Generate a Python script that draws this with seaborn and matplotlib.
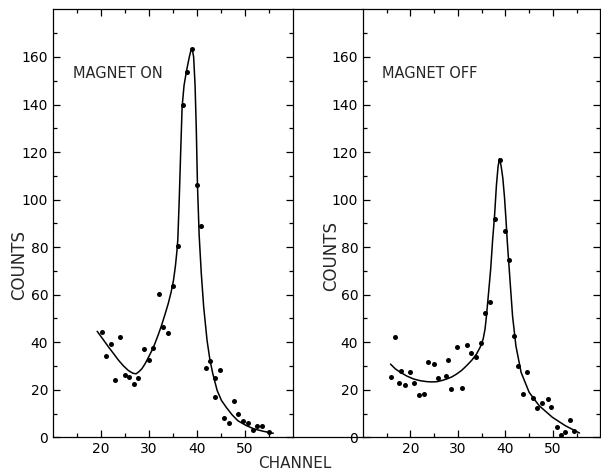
import matplotlib
matplotlib.use("Agg")
import matplotlib.pyplot as plt
from matplotlib.lines import Line2D
import pandas as pd
import seaborn as sns

# MAGNET ON - measured points
on_channel = [20.2, 21.0, 22.1, 23.0, 24.0, 24.9, 25.9, 26.8, 27.8, 29.0, 29.9, 30.9,
              32.1, 33.0, 33.9, 35.0, 36.1, 37.0, 37.9, 39.0, 40.1, 40.8, 41.8, 42.7,
              43.7, 43.7, 44.7, 45.7, 46.6, 47.7, 48.6, 49.6, 50.6, 51.6, 52.5, 53.6, 54.9]
on_counts = [44.2, 34.4, 39.4, 24.2, 42.4, 26.4, 25.3, 22.3, 25.0, 37.2, 32.6, 37.6,
             60.2, 46.3, 43.7, 63.7, 80.6, 139.7, 153.6, 163.2, 106.1, 88.7, 29.2, 32.0,
             25.0, 16.8, 28.5, 8.0, 5.9, 15.3, 9.8, 7.0, 6.2, 3.1, 4.9, 4.6, 2.1]

# MAGNET ON - fitted curve
on_fit_x = [19.2, 20.5, 21.6, 22.7, 23.7, 24.7, 25.7, 26.6, 27.3, 27.9, 28.5, 29.2,
            29.9, 30.6, 31.2, 31.9, 32.6, 33.3, 34.0, 34.6, 35.1, 35.5, 35.8, 36.0,
            36.3, 36.6, 36.9, 37.3, 37.8, 38.4, 38.7, 39.0, 39.3, 39.6, 39.85, 40.1,
            40.45, 40.9, 41.4, 42.1, 42.7, 43.3, 44.2, 45.1, 46.1, 47.3, 48.5, 50.2,
            51.9, 53.9, 55.9]
on_fit_y = [44.6, 41.0, 37.9, 35.0, 32.3, 30.0, 28.1, 27.0, 26.7, 27.6, 28.8, 31.0,
            33.7, 36.5, 39.3, 43.0, 47.0, 51.5, 56.2, 61.0, 66.0, 72.0, 78.0, 83.0,
            100.0, 120.0, 139.0, 148.0, 154.0, 160.0, 162.5, 163.5, 160.0, 148.0, 130.0, 106.0,
            85.0, 68.8, 54.7, 40.7, 32.5, 26.7, 19.7, 15.5, 12.6, 9.5, 7.0, 5.0,
            3.5, 2.5, 1.7]

# MAGNET OFF - measured points
off_channel = [15.8, 16.7, 17.5, 18.1, 18.9, 19.9, 20.8, 21.7, 22.9, 23.75, 24.9, 25.9,
               27.4, 27.9, 28.6, 29.9, 30.8, 31.8, 32.8, 33.75, 34.8, 35.8, 36.8, 37.85,
               38.9, 40.0, 40.7, 41.9, 42.7, 43.75, 44.5, 45.7, 46.6, 47.6, 49.0, 49.6,
               50.8, 51.6, 52.6, 53.7, 54.5]
off_counts = [25.4, 42.4, 22.8, 28.0, 22.2, 27.6, 22.8, 18.0, 18.4, 31.5, 30.8, 24.9,
              25.8, 32.7, 20.3, 38.0, 20.8, 38.7, 35.5, 33.9, 39.8, 52.5, 56.8, 92.0,
              116.6, 86.8, 74.5, 42.8, 30.0, 18.4, 27.4, 16.5, 12.3, 14.4, 16.1, 12.6,
              4.3, 1.0, 2.4, 7.3, 2.6]

# MAGNET OFF - fitted curve
off_fit_x = [15.8, 16.8, 17.9, 19.3, 20.7, 22.1, 23.5, 24.6, 25.6, 26.6, 27.6, 28.7,
             29.7, 30.8, 31.8, 32.9, 33.9, 34.7, 35.3, 35.7, 36.0, 36.5, 36.9, 37.3,
             37.7, 38.1, 38.45, 38.75, 39.1, 39.45, 39.8, 40.1, 40.4, 41.0, 41.5, 42.2,
             43.3, 45.0, 47.1, 49.9, 52.6, 55.6]
off_fit_y = [30.8, 28.8, 27.3, 25.7, 24.5, 23.8, 23.4, 23.3, 23.4, 23.9, 24.5, 25.4,
             26.6, 28.2, 30.1, 32.4, 35.0, 38.0, 41.3, 45.5, 51.0, 62.0, 71.0, 83.0,
             93.0, 106.0, 114.0, 117.2, 114.0, 109.0, 101.0, 92.0, 82.0, 65.0, 51.0, 38.5,
             27.3, 18.9, 13.3, 8.4, 4.9, 1.8]

sns.set_style("ticks")
plt.rcParams['font.family'] = ['DejaVu Sans']

fig = plt.figure(figsize=(6.01, 4.72), dpi=100)
ax1 = fig.add_axes([0.0882, 0.0735, 0.3993, 0.9065])
ax2 = fig.add_axes([0.604, 0.0735, 0.395, 0.9065])

panels = [
    (ax1, on_channel, on_counts, on_fit_x, on_fit_y, "MAGNET ON"),
    (ax2, off_channel, off_counts, off_fit_x, off_fit_y, "MAGNET OFF"),
]

for ax, cx, cy, fx, fy, label in panels:
    pts = pd.DataFrame({'channel': cx, 'counts': cy})
    fit = pd.DataFrame({'channel': fx, 'counts': fy})
    sns.lineplot(data=fit, x='channel', y='counts', ax=ax, color='black',
                 linewidth=1.1, sort=False, estimator=None)
    sns.scatterplot(data=pts, x='channel', y='counts', ax=ax, color='black',
                    s=13, linewidth=0, zorder=3)
    ax.set_xlim(10, 60)
    ax.set_ylim(0, 180)
    ax.set_xticks([20, 30, 40, 50])
    ax.set_xticks([15, 25, 35, 45, 55], minor=True)
    ax.set_yticks(range(0, 161, 20))
    ax.set_yticks(range(10, 180, 20), minor=True)
    ax.set_xlabel('')
    ax.set_ylabel('')
    for side in ['top', 'right', 'left', 'bottom']:
        ax.spines[side].set_visible(True)
        ax.spines[side].set_linewidth(0.9)
        ax.spines[side].set_color('black')
    ax.tick_params(which='both', direction='in', top=True, right=True,
                   width=0.9, colors='black', labelsize=10)
    ax.tick_params(which='major', length=5)
    ax.tick_params(which='minor', length=3)
    ax.text(14.1, 153, label, fontsize=10.5, va='center', ha='left')

# top and bottom frame lines spanning the gap between panels
gap_l = 0.0882 + 0.3993
gap_r = 0.604
for yy in [0.0735, 0.98]:
    fig.add_artist(Line2D([gap_l, gap_r], [yy, yy], transform=fig.transFigure,
                          color='black', linewidth=0.9))

fig.text(19 / 601, 1 - 265 / 472, 'COUNTS', rotation=90, fontsize=12,
         ha='center', va='center')
fig.text(331 / 601, 1 - 256 / 472, 'COUNTS', rotation=90, fontsize=12,
         ha='center', va='center')
fig.text(295 / 601, 1 - 464 / 472, 'CHANNEL', fontsize=11, ha='center', va='center')

fig.savefig('out.png', dpi=100)
plt.close(fig)
